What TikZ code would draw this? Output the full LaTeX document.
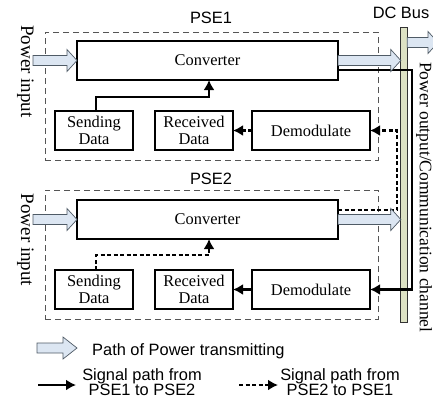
\documentclass[tikz,border=0pt]{standalone}
\usepackage{fontspec}
\setmainfont{Liberation Serif}
\newfontfamily\arialf{Liberation Sans}
\usetikzlibrary{arrows.meta,calc}
\definecolor{powfill}{HTML}{DCE6F2}
\definecolor{powline}{HTML}{4F5B66}
\definecolor{busfill}{HTML}{DDE2C4}
\definecolor{boxdash}{HTML}{555555}
\tikzset{
  blk/.style={draw=black, line width=1.2pt, inner sep=0pt, outer sep=0pt, minimum height=39pt, align=center, font=\fontsize{16.4}{17.5}\selectfont},
  grp/.style={draw=boxdash, line width=0.9pt, dash pattern=on 6pt off 4pt, inner sep=0pt, outer sep=0pt},
  sig/.style={line width=2.5pt, -{Latex[length=10pt,width=11pt]}},
  sigd/.style={sig, dash pattern=on 4pt off 2.5pt},
  powerstyle/.style={fill=powfill, draw=powline, line width=0.7pt, line join=miter},
  lab/.style={font=\arialf\fontsize{16.4}{15.5}\selectfont, inner sep=0pt},
  vlab/.style={rotate=-90, inner sep=0pt},
}
\newcommand\powarrow[3][10pt]{%
  \filldraw[powerstyle] let \p1=(#2), \p2=(#3) in
    (\x1,\y1+5pt) -- (\x2-#1,\y1+5pt) -- (\x2-#1,\y1+11pt) -- (\x2,\y1)
    -- (\x2-#1,\y1-11pt) -- (\x2-#1,\y1-5pt) -- (\x1,\y1-5pt) -- cycle;}
\begin{document}
\begin{tikzpicture}[x=1pt,y=-1pt]
\useasboundingbox (0,0) rectangle (433,399);
% group boxes
\node[grp, minimum width=333pt, minimum height=128pt] (pse1box) at (211.5,96) {};
\node[grp, minimum width=333pt, minimum height=129pt] (pse2box) at (211.5,254.5) {};
\node[lab] (pse1lab) at (211,17.5) {PSE1};
\node[lab] (pse2lab) at (211,179) {PSE2};
% bus
\node[draw=black!80, fill=busfill, line width=0.8pt, inner sep=0pt, outer sep=0pt,
      minimum width=6.4pt, minimum height=295pt] (bus) at (404,174.5) {};
\node[lab] (buslab) at (401,13) {DC Bus};
% blocks PSE1
\node[blk, minimum width=261pt] (conv1) at (207.5,60.5) {Converter};
\node[blk, minimum width=78pt] (send1) at (94,130.5) {Sending\\Data};
\node[blk, minimum width=78pt] (recv1) at (194,130.5) {Received\\Data};
\node[blk, minimum width=118pt] (demod1) at (311,130.5) {Demodulate};
% blocks PSE2
\node[blk, minimum width=261pt] (conv2) at (207.5,219.5) {Converter};
\node[blk, minimum width=78pt] (send2) at (94,289.5) {Sending\\Data};
\node[blk, minimum width=78pt] (recv2) at (194,289.5) {Received\\Data};
\node[blk, minimum width=118pt] (demod2) at (311,289.5) {Demodulate};
% side labels
\node[vlab, font=\fontsize{19}{19}\selectfont] (pin1lab) at (25.5,71.5) {Power input};
\node[vlab, font=\fontsize{19}{19}\selectfont] (pin2lab) at (25.5,240) {Power input};
\node[vlab, anchor=west, font=\fontsize{17.5}{17.5}\selectfont] (poutlab) at (424,62) {Power output/Communication channel};
% signal paths
\draw[sig] ([xshift=2pt]send1.north) -- ++(0,-14) -| ([xshift=1.5pt]conv1.south);
\draw[sigd] ([xshift=2pt]send2.north) -- ++(0,-15) -| ([xshift=1.5pt]conv2.south);
\draw[sigd] (demod1.west) -- (recv1.east);
\draw[sig] (demod2.west) -- (recv2.east);
\draw[sigd] ([yshift=-10pt]conv2.north east) -| ([xshift=27pt]demod1.east) -- (demod1.east);
\draw[sig] ([yshift=10pt]conv1.south east) -| ([xshift=42pt]demod2.east) -- (demod2.east);
% power paths
\coordinate (pin1) at (33,60.5);
\coordinate (pin2) at (33,219.5);
\coordinate (bout) at ([yshift=-15.5pt]bus.north east);
\coordinate (boutend) at (438,42.5);
\powarrow{pin1}{conv1.west}
\powarrow{pin2}{conv2.west}
\powarrow{conv1.east}{conv1.east -| bus.west}
\powarrow{conv2.east}{conv2.east -| bus.west}
\powarrow{bout}{boutend}
% legend
\coordinate (lp1) at (37,348);
\coordinate (lp2) at (77,348);
\powarrow[14pt]{lp1}{lp2}
\node[lab, anchor=base west] (leg1) at (92,355) {Path of Power transmitting};
\coordinate (ls1) at (38,385);
\coordinate (ls2) at (76,385);
\draw[sig] (ls1) -- (ls2);
\node[lab, align=center] (leg2) at (142,382) {Signal path from\\PSE1 to PSE2};
\coordinate (ld1) at (239,385);
\coordinate (ld2) at (278,385);
\draw[sigd] (ld1) -- (ld2);
\node[lab, align=center] (leg3) at (340,382) {Signal path from\\PSE2 to PSE1};
\end{tikzpicture}
\end{document}
